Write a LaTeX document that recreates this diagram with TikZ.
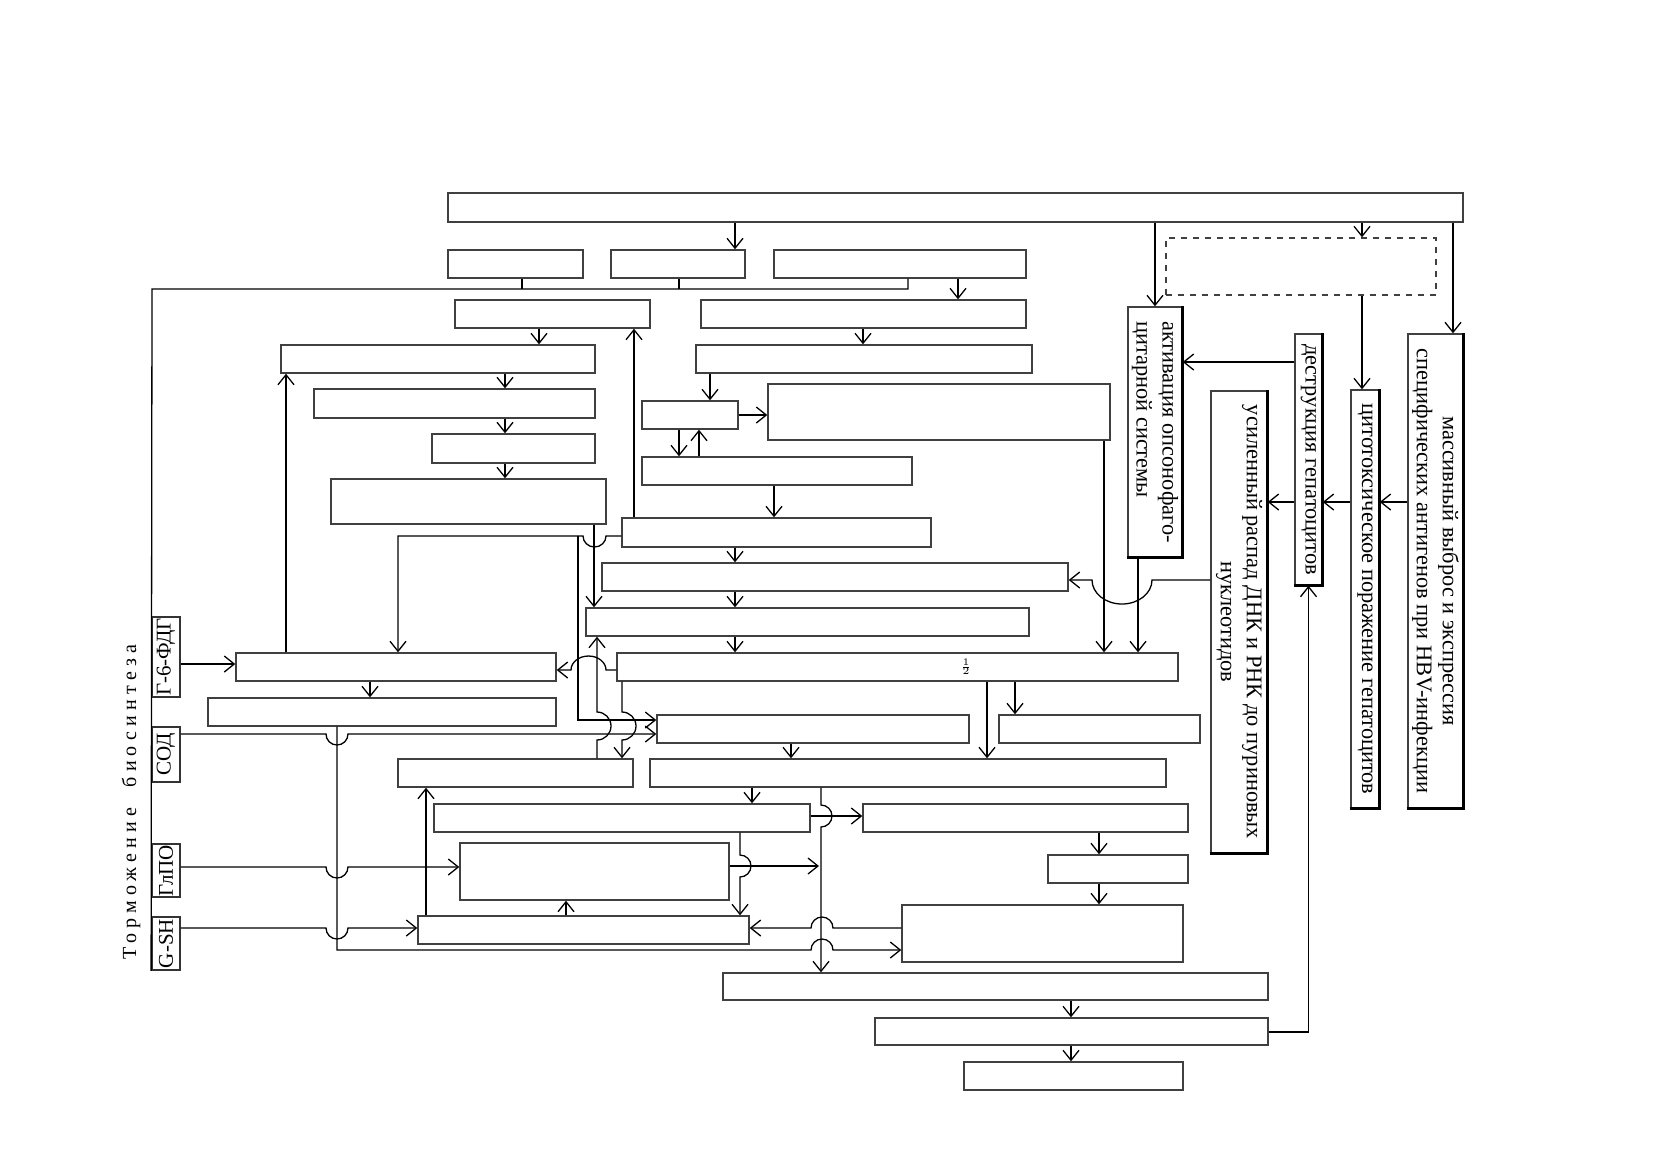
\documentclass[tikz,border=0pt]{standalone}
\usepackage{fontspec}
\setmainfont{Liberation Serif}
\usetikzlibrary{arrows.meta,fit}
\tikzset{
  box/.style={draw=black!75, line width=0.7pt, inner sep=0pt},
  tag/.style={draw=black!80, line width=0.9pt, inner sep=0pt},
  link/.style={line width=0.65pt},
  vtext/.style={rotate=-90, inner sep=0pt, font=\fontsize{11.2}{13}\selectfont},
  >={Straight Barb[length=5pt,width=8pt]}
}

\begin{document}
\begin{tikzpicture}[x=0.5pt,y=-0.5pt]
\useasboundingbox (0,0) rectangle (1664,1175);

\node[box, fit={(448,193) (1463,222)}] (A0) {};
\node[box, fit={(448,250) (583,278)}] (B1) {};
\node[box, fit={(611,250) (745,278)}] (B2) {};
\node[box, fit={(774,250) (1026,278)}] (B3) {};
\node[box, fit={(455,300) (650,328)}] (C1) {};
\node[box, fit={(701,300) (1026,328)}] (C2) {};
\node[box, fit={(281,345) (595,373)}] (D1) {};
\node[box, fit={(696,345) (1032,373)}] (D2) {};
\node[box, fit={(314,389) (595,418)}] (E1) {};
\node[box, fit={(432,434) (595,463)}] (E2) {};
\node[box, fit={(331,479) (606,524)}] (E3) {};
\node[box, fit={(642,401) (738,429)}] (G1) {};
\node[box, fit={(768,384) (1110,440)}] (G2) {};
\node[box, fit={(642,457) (912,485)}] (G3) {};
\node[box, fit={(622,518) (931,547)}] (F0) {};
\node[box, fit={(602,563) (1068,591)}] (F1) {};
\node[box, fit={(586,608) (1029,636)}] (F2) {};
\node[box, fit={(617,653) (1178,681)}] (H0) {};
\node[box, fit={(236,653) (556,681)}] (L1) {};
\node[box, fit={(208,698) (556,726)}] (L2) {};
\node[box, fit={(657,715) (969,743)}] (M1) {};
\node[box, fit={(999,715) (1200,743)}] (M2) {};
\node[box, fit={(398,759) (633,787)}] (N1) {};
\node[box, fit={(650,759) (1166,787)}] (N2) {};
\node[box, fit={(434,804) (810,832)}] (P1) {};
\node[box, fit={(863,804) (1188,832)}] (P2) {};
\node[box, fit={(460,843) (729,900)}] (Q) {};
\node[box, fit={(1048,855) (1188,883)}] (R) {};
\node[box, fit={(418,916) (749,944)}] (S1) {};
\node[box, fit={(902,905) (1183,962)}] (S2) {};
\node[box, fit={(723,973) (1268,1000)}] (T1) {};
\node[box, fit={(875,1018) (1268,1045)}] (T2) {};
\node[box, fit={(964,1062) (1183,1090)}] (T3) {};
\node[font=\tiny] (half) at (966,667) {$\frac{1}{2}$};

\node[box, dashed, fit={(1166,238) (1436,295)}] (dash) {};
\node[box, fit={(1128,307) (1182,557)}] (act) {};
\node[box, fit={(1211,391) (1267,853)}] (usil) {};
\node[box, fit={(1295,334) (1322,585)}] (destr) {};
\node[box, fit={(1351,390) (1379,808)}] (cyto) {};
\node[box, fit={(1408,334) (1463,808)}] (mass) {};
\foreach \n in {act,usil,destr,cyto,mass}
  \draw[line width=1.4pt] (\n.north east) -- (\n.south east) -- (\n.south west);

\node[vtext, align=center] (tmass) at (mass.center) {массивный выброс и экспрессия\\специфических антигенов при HBV-инфекции};
\node[vtext] (tcyto) at (cyto.center) {цитотоксическое поражение гепатоцитов};
\node[vtext] (tdestr) at (destr.center) {деструкция гепатоцитов};
\node[vtext, align=center] (tusil) at (usil.center) {усиленный распад ДНК и РНК до пуриновых\\нуклеотидов};
\node[vtext, align=left] (tact) at (act.center) {активация опсонофаго-\\цитарной системы};

\node[tag, fit={(152,617) (180,697)}] (g6) {};
\node[tag, fit={(152,727) (180,782)}] (sod) {};
\node[tag, fit={(152,844) (180,897)}] (glpo) {};
\node[tag, fit={(152,917) (180,970)}] (gsh) {};
\node[vtext, rotate=180, font=\fontsize{10.5}{12}\selectfont] at (g6.center) {Г-6-ФДГ};
\node[vtext, rotate=180, font=\fontsize{10.5}{12}\selectfont] at (sod.center) {СОД};
\node[vtext, rotate=180, font=\fontsize{10.5}{12}\selectfont] at (glpo.center) {ГлПО};
\node[vtext, rotate=180, font=\fontsize{10.5}{12}\selectfont] at (gsh.center) {G-SH};
\node[vtext, rotate=180, font=\fontsize{10}{12}\selectfont\addfontfeatures{LetterSpace=26}] (brake) at (131,802) {Торможение\ \ биосинтеза};

\coordinate (jl) at (152,289);
\draw[link] (B3.south -| 908,0) |- (jl) -- (gsh.south west);
\draw[link] (B1.south -| 522,0) -- (jl -| 522,0);
\draw[link] (B2.south -| 679,0) -- (jl -| 679,0);

\draw[link,->] (A0.south -| 735,0) -- (B2.north -| 735,0);
\draw[link,->] (B3.south -| 958,0) -- (C2.north -| 958,0);
\draw[link,->] (C1.south -| 539,0) -- (D1.north -| 539,0);
\draw[link,->] (C2.south -| 863,0) -- (D2.north -| 863,0);
\draw[link,->] (D1.south -| 505,0) -- (E1.north -| 505,0);
\draw[link,->] (E1.south -| 505,0) -- (E2.north -| 505,0);
\draw[link,->] (E2.south -| 505,0) -- (E3.north -| 505,0);
\draw[link,->] (L1.north -| 286,0) -- (D1.south -| 286,0);
\draw[link,->] (F0.north -| 634,0) -- (C1.south -| 634,0);
\draw[link,->] (D2.south -| 710,0) -- (G1.north -| 710,0);
\draw[link,->] (G1.east |- 0,415) -- (G2.west |- 0,415);
\draw[link,->] (G1.south -| 679,0) -- (G3.north -| 679,0);
\draw[link,->] (G3.north -| 699,0) -- (G1.south -| 699,0);
\draw[link,->] (G3.south -| 774,0) -- (F0.north -| 774,0);
\draw[link,->] (F0.south -| 735,0) -- (F1.north -| 735,0);
\draw[link,->] (F1.south -| 735,0) -- (F2.north -| 735,0);
\draw[link,->] (F2.south -| 735,0) -- (H0.north -| 735,0);
\draw[link,->] (G2.south -| 1104,0) -- (H0.north -| 1104,0);
\draw[link,->] (act.south -| 1138,0) -- (H0.north -| 1138,0);
\draw[link,->] (usil.west |- 0,580) -- (1152,580) arc[start angle=0, end angle=180, x radius=30, y radius=24] -- (F1.east |- 0,580);
\draw[link,->] (E3.south -| 594,0) -- (F2.north -| 594,0);
\draw[link,->] (F0.west |- 0,536) -- (606,536) arc[start angle=0, end angle=180, x radius=11.5, y radius=11] -- (398,536) -- (L1.north -| 398,0);
\coordinate (br) at (578,536);
\draw[link,->] (br) -- (578,720) -- (M1.west |- 0,720);
\draw[link,->] (H0.west |- 0,670) -- (606,670) arc[start angle=0, end angle=-180, x radius=17.5, y radius=14] -- (L1.east |- 0,670);
\draw[link,->] (N1.north -| 597,0) -- (597,740) arc[start angle=90, end angle=-90, radius=14] -- (F2.south -| 597,0);
\draw[link,->] (H0.south -| 622,0) -- (622,712) arc[start angle=-90, end angle=90, radius=14] -- (N1.north -| 622,0);
\draw[link,->] (g6.east |- 0,664) -- (L1.west |- 0,664);
\draw[link,->] (sod.east |- 0,734) -- (326,734) arc[start angle=180, end angle=0, radius=11] -- (M1.west |- 0,734);
\draw[link,->] (L1.south -| 370,0) -- (L2.north -| 370,0);
\draw[link,->] (L2.south -| 337,0) -- (337,950) -- (811,950) arc[start angle=180, end angle=360, radius=11] -- (S2.west |- 0,950);
\draw[link,->] (glpo.east |- 0,867) -- (326,867) arc[start angle=180, end angle=0, radius=11] -- (Q.west |- 0,867);
\draw[link,->] (gsh.east |- 0,928) -- (326,928) arc[start angle=180, end angle=0, radius=11] -- (S1.west |- 0,928);
\draw[link,->] (S1.north -| 426,0) -- (N1.south -| 426,0);
\draw[link,->] (S1.north -| 566,0) -- (Q.south -| 566,0);
\draw[link,->] (H0.south -| 1015,0) -- (M2.north -| 1015,0);
\draw[link,->] (H0.south -| 987,0) -- (N2.north -| 987,0);
\draw[link,->] (M1.south -| 791,0) -- (N2.north -| 791,0);
\draw[link,->] (N2.south -| 752,0) -- (P1.north -| 752,0);
\draw[link,->] (N2.south -| 821,0) -- (821,805) arc[start angle=-90, end angle=90, radius=11] -- (T1.north -| 821,0);
\draw[link,->] (P1.east |- 0,816) -- (P2.west |- 0,816);
\draw[link,->] (P1.south -| 740,0) -- (740,855) arc[start angle=-90, end angle=90, radius=11] -- (S1.north -| 740,0);
\coordinate (qhit) at (819,866);
\draw[link,->] (Q.east |- 0,866) -- (qhit);
\draw[link,->] (S2.west |- 0,928) -- (833,928) arc[start angle=0, end angle=-180, radius=11] -- (S1.east |- 0,928);
\draw[link,->] (P2.south -| 1099,0) -- (R.north -| 1099,0);
\draw[link,->] (R.south -| 1099,0) -- (S2.north -| 1099,0);
\draw[link,->] (T1.south -| 1071,0) -- (T2.north -| 1071,0);
\draw[link,->] (T2.south -| 1071,0) -- (T3.north -| 1071,0);
\draw[link,->] (T2.east |- 0,1032) -| (destr.south);

\draw[link,->] (A0.south -| 1155,0) -- (act.north -| 1155,0);
\draw[link,->] (A0.south -| 1362,0) -- (dash.north -| 1362,0);
\draw[link,->] (dash.south -| 1362,0) -- (cyto.north -| 1362,0);
\draw[link,->] (A0.south -| 1453,0) -- (mass.north -| 1453,0);
\draw[link,->] (mass.west |- 0,502) -- (cyto.east |- 0,502);
\draw[link,->] (cyto.west |- 0,502) -- (destr.east |- 0,502);
\draw[link,->] (destr.west |- 0,502) -- (usil.east |- 0,502);
\draw[link,->] (destr.west |- 0,362) -- (act.east |- 0,362);
\end{tikzpicture}
\end{document}
